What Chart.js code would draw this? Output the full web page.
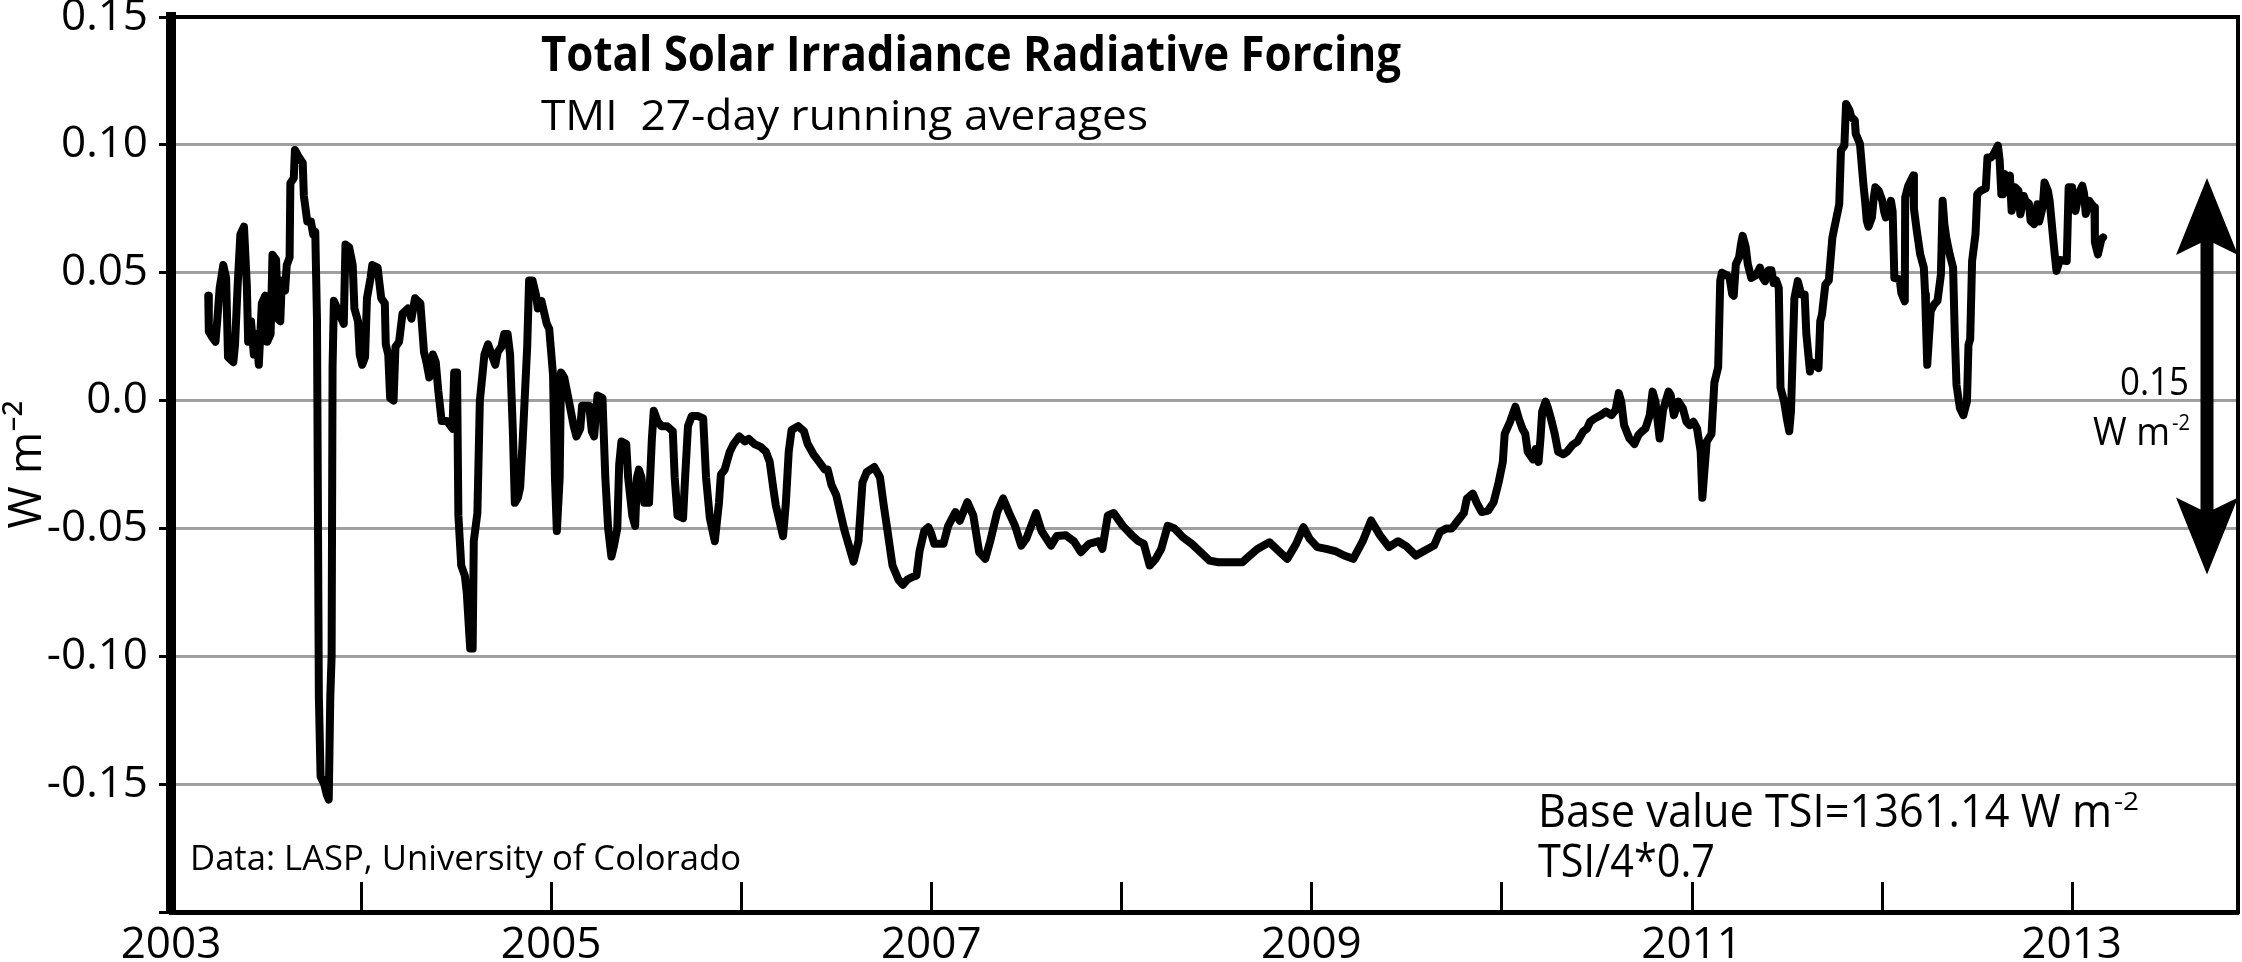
<!DOCTYPE html>
<html><head><meta charset="utf-8">
<script src="https://cdn.jsdelivr.net/npm/chart.js@4.4.1/dist/chart.umd.min.js"></script>
<style>html,body{margin:0;padding:0;background:#fff;overflow:hidden}canvas{display:block}</style>
</head><body>
<canvas id="c" width="2242" height="962" style="width:2242px;height:962px"></canvas>
<script>
// ---- data (decimal year, W m-2) ----
const years = [
2003.196,2003.199,2003.215,2003.234,2003.243,2003.256,2003.275,2003.290,2003.300,2003.328,2003.337,2003.350,2003.365,2003.384,2003.399,2003.406,2003.421,2003.436,2003.449,2003.462,
2003.478,2003.496,2003.506,2003.524,2003.534,2003.553,2003.562,2003.575,2003.583,2003.600,2003.609,2003.624,2003.628,2003.646,2003.652,2003.674,2003.693,2003.699,2003.717,2003.736,
2003.748,2003.759,2003.768,2003.778,2003.787,2003.806,2003.819,2003.830,2003.838,2003.845,2003.850,2003.857,2003.880,2003.909,2003.918,2003.937,2003.956,2003.965,2003.984,2003.993,
2004.006,2004.021,2004.031,2004.050,2004.059,2004.087,2004.106,2004.125,2004.130,2004.143,2004.153,2004.171,2004.181,2004.200,2004.218,2004.246,2004.265,2004.284,2004.312,2004.331,
2004.344,2004.359,2004.378,2004.393,2004.406,2004.424,2004.452,2004.481,2004.490,2004.505,2004.512,2004.527,2004.546,2004.556,2004.574,2004.587,2004.593,2004.612,2004.625,2004.649,
2004.668,2004.687,2004.706,2004.719,2004.738,2004.753,2004.771,2004.784,2004.799,2004.809,2004.825,2004.837,2004.850,2004.874,2004.884,2004.902,2004.921,2004.930,2004.949,2004.977,
2004.990,2005.010,2005.020,2005.030,2005.045,2005.052,2005.069,2005.093,2005.119,2005.133,2005.153,2005.163,2005.200,2005.214,2005.226,2005.244,2005.270,2005.285,2005.300,2005.317,
2005.330,2005.348,2005.358,2005.370,2005.395,2005.405,2005.427,2005.442,2005.452,2005.462,2005.475,2005.490,2005.515,2005.530,2005.540,2005.560,2005.580,2005.610,2005.640,2005.650,
2005.665,2005.694,2005.705,2005.720,2005.740,2005.770,2005.800,2005.815,2005.835,2005.861,2005.883,2005.893,2005.913,2005.940,2005.960,2005.990,2006.020,2006.040,2006.070,2006.100,
2006.130,2006.150,2006.170,2006.182,2006.220,2006.235,2006.250,2006.265,2006.300,2006.330,2006.350,2006.380,2006.410,2006.440,2006.455,2006.475,2006.500,2006.544,2006.591,2006.617,
2006.638,2006.660,2006.700,2006.730,2006.750,2006.764,2006.796,2006.827,2006.850,2006.875,2006.900,2006.922,2006.938,2006.963,2006.985,2007.000,2007.016,2007.064,2007.089,2007.127,
2007.150,2007.190,2007.221,2007.252,2007.284,2007.310,2007.347,2007.378,2007.410,2007.441,2007.473,2007.500,2007.551,2007.580,2007.630,2007.660,2007.709,2007.750,2007.787,2007.830,
2007.882,2007.900,2007.929,2007.960,2008.008,2008.055,2008.090,2008.118,2008.149,2008.180,2008.210,2008.244,2008.280,2008.323,2008.370,2008.417,2008.464,2008.511,2008.580,2008.637,
2008.670,2008.716,2008.779,2008.830,2008.873,2008.920,2008.958,2008.990,2009.031,2009.078,2009.130,2009.172,2009.220,2009.270,2009.314,2009.361,2009.408,2009.456,2009.500,2009.550,
2009.597,2009.645,2009.676,2009.710,2009.739,2009.770,2009.802,2009.818,2009.849,2009.870,2009.896,2009.930,2009.959,2009.985,2010.007,2010.017,2010.045,2010.073,2010.091,2010.110,
2010.125,2010.138,2010.166,2010.180,2010.195,2010.205,2010.214,2010.232,2010.245,2010.260,2010.280,2010.298,2010.326,2010.345,2010.373,2010.400,2010.429,2010.450,2010.466,2010.490,
2010.523,2010.550,2010.579,2010.600,2010.617,2010.630,2010.645,2010.673,2010.700,2010.720,2010.740,2010.757,2010.780,2010.795,2010.810,2010.832,2010.850,2010.879,2010.890,2010.907,
2010.930,2010.954,2010.973,2010.990,2011.010,2011.029,2011.048,2011.057,2011.065,2011.080,2011.105,2011.120,2011.140,2011.151,2011.160,2011.187,2011.200,2011.214,2011.222,2011.233,
2011.250,2011.260,2011.269,2011.285,2011.296,2011.314,2011.340,2011.360,2011.375,2011.387,2011.405,2011.420,2011.432,2011.445,2011.459,2011.468,2011.487,2011.501,2011.514,2011.523,
2011.541,2011.559,2011.577,2011.595,2011.604,2011.623,2011.632,2011.650,2011.668,2011.677,2011.686,2011.704,2011.722,2011.741,2011.759,2011.777,2011.786,2011.804,2011.813,2011.831,
2011.840,2011.859,2011.864,2011.886,2011.904,2011.913,2011.922,2011.931,2011.949,2011.958,2011.967,2011.985,2012.004,2012.013,2012.022,2012.040,2012.049,2012.058,2012.067,2012.095,
2012.104,2012.122,2012.124,2012.140,2012.167,2012.170,2012.185,2012.203,2012.222,2012.229,2012.233,2012.240,2012.258,2012.276,2012.294,2012.312,2012.321,2012.330,2012.340,2012.358,
2012.376,2012.385,2012.394,2012.412,2012.430,2012.449,2012.457,2012.466,2012.476,2012.494,2012.503,2012.520,2012.539,2012.548,2012.557,2012.575,2012.585,2012.600,2012.612,2012.621,
2012.630,2012.639,2012.648,2012.666,2012.675,2012.684,2012.693,2012.702,2012.720,2012.730,2012.748,2012.757,2012.775,2012.784,2012.802,2012.820,2012.829,2012.848,2012.857,2012.875,
2012.884,2012.902,2012.911,2012.920,2012.938,2012.974,2012.984,2013.002,2013.011,2013.020,2013.038,2013.056,2013.065,2013.074,2013.093,2013.102,2013.120,2013.122,2013.129,2013.138,
2013.156,2013.165
];
const forcing = [
0.041,0.027,0.025,0.023,0.031,0.044,0.053,0.048,0.017,0.015,0.022,0.044,0.065,0.068,0.045,0.023,0.031,0.018,0.026,0.014,
0.038,0.041,0.023,0.026,0.057,0.055,0.032,0.031,0.047,0.043,0.053,0.056,0.085,0.087,0.098,0.095,0.093,0.080,0.070,0.070,
0.065,0.066,0.032,-0.116,-0.147,-0.150,-0.154,-0.156,-0.116,-0.100,0.013,0.039,0.035,0.030,0.061,0.060,0.053,0.036,0.031,0.018,
0.014,0.017,0.040,0.048,0.053,0.052,0.040,0.038,0.022,0.018,0.001,0.000,0.021,0.023,0.034,0.036,0.032,0.040,0.038,0.019,
0.015,0.009,0.018,0.015,0.004,-0.008,-0.008,-0.011,0.011,0.011,-0.045,-0.0645,-0.0685,-0.075,-0.097,-0.097,-0.055,-0.044,0.000,0.018,
0.022,0.018,0.014,0.019,0.021,0.026,0.026,0.018,-0.013,-0.040,-0.038,-0.034,-0.016,0.021,0.047,0.047,0.041,0.036,0.039,0.030,
0.028,0.010,-0.030,-0.051,-0.030,0.011,0.009,0.000,-0.010,-0.014,-0.011,-0.002,-0.002,-0.012,-0.014,0.002,0.001,-0.030,-0.050,-0.061,
-0.057,-0.050,-0.025,-0.016,-0.017,-0.030,-0.045,-0.049,-0.030,-0.027,-0.030,-0.040,-0.040,-0.015,-0.004,-0.008,-0.010,-0.010,-0.012,-0.030,
-0.045,-0.046,-0.030,-0.010,-0.006,-0.006,-0.007,-0.030,-0.046,-0.055,-0.040,-0.029,-0.027,-0.020,-0.017,-0.014,-0.016,-0.015,-0.017,-0.018,
-0.020,-0.024,-0.035,-0.041,-0.053,-0.040,-0.020,-0.0115,-0.010,-0.012,-0.017,-0.021,-0.024,-0.027,-0.027,-0.033,-0.037,-0.051,-0.063,-0.055,
-0.032,-0.028,-0.026,-0.030,-0.041,-0.048,-0.0645,-0.070,-0.072,-0.070,-0.069,-0.0685,-0.059,-0.051,-0.0495,-0.052,-0.056,-0.056,-0.049,-0.0436,
-0.047,-0.0397,-0.0449,-0.0593,-0.0619,-0.055,-0.0436,-0.0383,-0.044,-0.049,-0.0567,-0.054,-0.044,-0.051,-0.0567,-0.053,-0.0527,-0.055,-0.0593,-0.056,
-0.055,-0.058,-0.0449,-0.044,-0.049,-0.0527,-0.055,-0.056,-0.0645,-0.062,-0.058,-0.049,-0.050,-0.0534,-0.056,-0.0593,-0.0626,-0.0632,-0.0632,-0.0632,
-0.061,-0.058,-0.0554,-0.059,-0.0619,-0.056,-0.0495,-0.054,-0.0573,-0.058,-0.059,-0.0606,-0.0619,-0.055,-0.0469,-0.0527,-0.0573,-0.055,-0.057,-0.0606,
-0.0586,-0.0567,-0.0514,-0.050,-0.050,-0.047,-0.044,-0.0383,-0.0364,-0.040,-0.0436,-0.043,-0.0397,-0.032,-0.024,-0.013,-0.0083,-0.0024,-0.007,-0.011,
-0.013,-0.020,-0.023,-0.019,-0.024,-0.015,-0.0043,-0.0004,-0.003,-0.007,-0.013,-0.020,-0.021,-0.020,-0.0174,-0.016,-0.0122,-0.011,-0.0083,-0.007,
-0.0057,-0.0043,-0.0057,-0.0037,0.0029,-0.0004,-0.0096,-0.0148,-0.017,-0.0135,-0.012,-0.011,-0.0057,0.0035,-0.0004,-0.0148,-0.0037,0.0035,0.0022,-0.0057,
-0.0004,-0.0030,-0.0083,-0.0096,-0.0083,-0.011,-0.020,-0.038,-0.030,-0.016,-0.013,0.007,0.013,0.047,0.050,0.049,0.048,0.0415,0.041,0.0533,
0.056,0.0611,0.0644,0.060,0.0533,0.048,0.049,0.052,0.048,0.0467,0.051,0.051,0.046,0.047,0.044,0.005,-0.0004,-0.0069,-0.012,-0.0043,
0.040,0.0467,0.0415,0.0415,0.026,0.0114,0.015,0.014,0.0127,0.031,0.0336,0.0454,0.047,0.0638,0.0703,0.0768,0.0978,0.0997,0.116,0.1135,
0.111,0.1096,0.1043,0.1004,0.0847,0.0781,0.0703,0.068,0.0716,0.079,0.0834,0.082,0.0781,0.074,0.0716,0.075,0.0781,0.074,0.048,0.0474,
0.042,0.0388,0.0794,0.084,0.0880,0.075,0.0664,0.0572,0.052,0.0415,0.031,0.014,0.0349,0.0376,0.039,0.0493,0.0781,0.069,0.0638,0.0572,
0.052,0.0258,0.0061,-0.003,-0.0057,-0.0004,0.0218,0.024,0.0546,0.0651,0.0807,0.082,0.0827,0.083,0.0951,0.095,0.0958,0.098,0.0997,0.094,
0.0807,0.0807,0.0886,0.086,0.088,0.0742,0.077,0.0834,0.082,0.0729,0.080,0.0781,0.077,0.0703,0.069,0.0768,0.070,0.076,0.0853,0.082,
0.0781,0.0638,0.057,0.0507,0.055,0.0546,0.0834,0.0834,0.077,0.0742,0.081,0.084,0.081,0.073,0.0781,0.077,0.0755,0.062,0.0598,0.0572,
0.063,0.0638
];
const xTickLabels = ['2003','2005','2007','2009','2011','2013'];
const yTickLabels = ['-0.15','-0.10','-0.05','0.0','0.05','0.10','0.15'];
const minorYears = [2004,2005,2006,2007,2008,2009,2010,2011,2012,2013];
const arrowTopValue = 0.087, arrowSpan = 0.155;

const FONT = '"Open Sans", "Noto Sans", sans-serif';
Chart.defaults.font.family = FONT;
Chart.defaults.color = '#000';

function txt(ctx, s, x, y, size, weight, width, align) {
  ctx.save();
  ctx.font = weight + ' ' + size + 'px ' + FONT;
  ctx.textBaseline = 'alphabetic';
  const w = ctx.measureText(s).width;
  const sx = width ? width / w : 1;
  ctx.translate(x, y);
  ctx.scale(sx, 1);
  ctx.textAlign = align || 'left';
  ctx.fillStyle = '#000';
  ctx.fillText(s, 0, 0);
  ctx.restore();
  return w * sx;
}

const annot = {
  id: 'annot',
  afterDraw(chart) {
    const ctx = chart.ctx, ca = chart.chartArea, xs = chart.scales.x, ys = chart.scales.y;
    ctx.save();
    // inner x ticks
    ctx.strokeStyle = '#000'; ctx.lineWidth = 3;
    minorYears.forEach(yr => {
      const px = Math.round(xs.getPixelForValue(yr)) + 0.5;
      ctx.beginPath(); ctx.moveTo(px, ca.bottom); ctx.lineTo(px, ca.bottom - 30); ctx.stroke();
    });
    // top and right frame
    ctx.lineWidth = 4;
    ctx.beginPath(); ctx.moveTo(ca.left, ca.top); ctx.lineTo(ca.right + 2, ca.top); ctx.stroke();
    ctx.beginPath(); ctx.moveTo(ca.right, ca.top); ctx.lineTo(ca.right, ca.bottom + 2); ctx.stroke();
    // double arrow
    const cx = ca.right - 31;
    const t = ys.getPixelForValue(arrowTopValue), b = ys.getPixelForValue(arrowTopValue - arrowSpan);
    const hw = 31, sw = 6.5, hl = 77, nl = 65;
    ctx.fillStyle = '#000';
    ctx.beginPath();
    ctx.moveTo(cx, t); ctx.lineTo(cx + hw, t + hl); ctx.lineTo(cx + sw, t + nl);
    ctx.lineTo(cx + sw, b - nl); ctx.lineTo(cx + hw, b - hl); ctx.lineTo(cx, b);
    ctx.lineTo(cx - hw, b - hl); ctx.lineTo(cx - sw, b - nl); ctx.lineTo(cx - sw, t + nl);
    ctx.lineTo(cx - hw, t + hl); ctx.closePath(); ctx.fill();
    ctx.restore();
    // texts
    txt(ctx, 'Total Solar Irradiance Radiative Forcing', 541, 71, 48, 'bold', 860);
    txt(ctx, 'TMI  27-day running averages', 541, 130, 42, 'normal', 607);
    txt(ctx, 'Data: LASP, University of Colorado', 190, 870, 35, 'normal', 551);
    const w1 = txt(ctx, 'Base value TSI=1361.14 W m', 1538, 827, 45, 'normal', 574);
    txt(ctx, '-2', 1538 + w1 + 2, 810, 26, 'normal', 25);
    txt(ctx, 'TSI/4*0.7', 1538, 877, 45, 'normal', 177);
    txt(ctx, '0.15', cx - 18, 395, 38, 'normal', 69, 'right');
    txt(ctx, 'W m', cx - 37, 445, 38, 'normal', 77, 'right');
    txt(ctx, '-2', cx - 35, 430, 22, 'normal', 18);
  }
};

const pts = years.map((x, i) => ({ x: x, y: forcing[i] }));
const near = (a, b) => Math.abs(a - b) < 1e-6;
function noPad(s) { s.paddingTop = 0; s.paddingBottom = 0; s.paddingLeft = 0; s.paddingRight = 0; }

new Chart(document.getElementById('c'), {
  type: 'line',
  data: { datasets: [{ data: pts, borderColor: '#000', borderWidth: 8, pointRadius: 0, tension: 0,
    borderJoinStyle: 'round', borderCapStyle: 'round', fill: false }] },
  options: {
    responsive: false, animation: false, devicePixelRatio: 1,
    layout: { padding: { top: 17, right: 4, left: 0, bottom: 0 } },
    plugins: { legend: { display: false }, tooltip: { enabled: false } },
    scales: {
      x: {
        type: 'linear', min: 2003, max: 2013.875,
        afterFit(s) { s.height = 50; noPad(s); },
        grid: { display: false, drawTicks: false },
        border: { display: true, color: '#000', width: 5 },
        ticks: {
          stepSize: 1, includeBounds: false, autoSkip: false, maxRotation: 0, padding: 7, font: { size: 44 },
          callback(v) { const l = xTickLabels.find(s => near(+s, v)); return l || ''; }
        }
      },
      y: {
        min: -0.2, max: 0.15,
        afterFit(s) { s.width = 171; noPad(s); },
        grid: {
          color(c) { const v = c.tick ? c.tick.value : 0; return (near(v, 0.15) || near(v, -0.2)) ? 'rgba(0,0,0,0)' : '#a0a0a0'; },
          lineWidth: 3, drawTicks: true, tickLength: 12, tickColor: '#000', tickWidth: 3
        },
        border: { color: '#000', width: 10 },
        ticks: {
          stepSize: 0.05, padding: 11, font: { size: 44 },
          callback(v) { const l = yTickLabels.find(s => near(+s, v)); return l || ''; }
        },
        title: { display: true, text: 'W m\u207B\u00B2', font: { size: 46 }, padding: { top: 0, bottom: 0 } }
      }
    }
  },
  plugins: [annot]
});
</script>
</body></html>
